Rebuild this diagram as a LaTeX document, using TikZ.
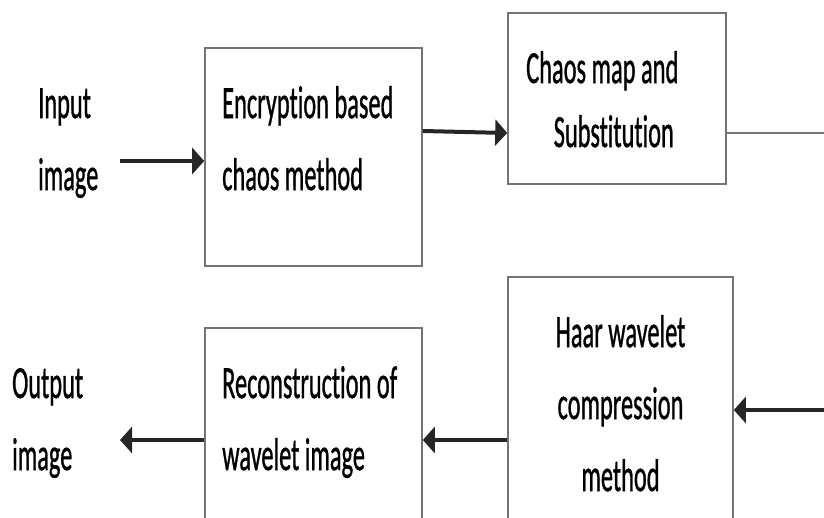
\documentclass[tikz,border=0pt]{standalone}
\usepackage{fontspec}
\setmainfont{Carlito}[Ligatures=NoCommon,FakeBold=1.2]
\usetikzlibrary{arrows.meta}
\newcommand{\narrow}[1]{\scalebox{0.53}[1]{#1}}

\begin{document}
\begin{tikzpicture}[x=1pt,y=-1pt,
        block/.style={draw=black!55,line width=1.6pt,inner sep=0pt},
        words/.style={inner sep=0pt,font=\fontsize{46}{72}\selectfont},
        flow/.style={draw=black!85,line width=4pt,-{Triangle[length=12pt,width=26pt]}}]
        \useasboundingbox (0,0) rectangle (824,517) ;
        \clip (0,0) rectangle (824,517) ;
        % blocks
        \node[block,minimum width=217pt,minimum height=218pt] (enc) at (313.5,157) {} ;
        \node[block,minimum width=218pt,minimum height=171pt] (chaos) at (617,98.5) {} ;
        \node[block,minimum width=225pt,minimum height=263pt] (haar) at (620.5,408.5) {} ;
        \node[block,minimum width=217pt,minimum height=212pt] (recon) at (313.5,434) {} ;
        % texts
        \node[words,anchor=base west] (intext) at (38,118)
        {\narrow{\begin{tabular}[t]{@{}l@{}}Input\\image\end{tabular}}} ;
        \node[words,anchor=base west] (enctext) at (222,118)
        {\narrow{\begin{tabular}[t]{@{}l@{}}Encryption based\\chaos method\end{tabular}}} ;
        \node[words,anchor=base west] (chaostext) at (526,83)
        {\narrow{\begin{tabular}[t]{@{}l@{}}Chaos map and\\[-8pt]\hspace*{52pt}Substitution\end{tabular}}} ;
        \node[words,anchor=base] (haartext) at (620.5,347)
        {\narrow{\begin{tabular}[t]{@{}c@{}}Haar wavelet\\compression\\method\end{tabular}}} ;
        \node[words,anchor=base west] (recontext) at (222,398)
        {\narrow{\begin{tabular}[t]{@{}l@{}}Reconstruction of\\wavelet image\end{tabular}}} ;
        \node[words,anchor=base west] (outtext) at (12,398)
        {\narrow{\begin{tabular}[t]{@{}l@{}}Output\\image\end{tabular}}} ;
        % connectors
        \coordinate (inarr) at (120,161) ;
        \coordinate (upA) at (465,131) ;
        \coordinate (upB) at (465,133) ;
        \coordinate (edgeA) at (830,133) ;
        \coordinate (edgeB) at (830,410) ;
        \coordinate (low) at (465,440) ;
        \coordinate (outarr) at (120,440) ;
        \draw[flow] (inarr) -- (inarr -| enc.west) ;
        \draw[flow] (upA -| enc.east) -- (upB -| chaos.west) ;
        \draw[draw=black!55,line width=2pt] (edgeA -| chaos.east) -- (edgeA) ;
        \draw[flow] (edgeB) -- (edgeB -| haar.east) ;
        \draw[flow] (low -| haar.west) -- (low -| recon.east) ;
        \draw[flow] (outarr -| recon.west) -- (outarr) ;
\end{tikzpicture}
\end{document}
